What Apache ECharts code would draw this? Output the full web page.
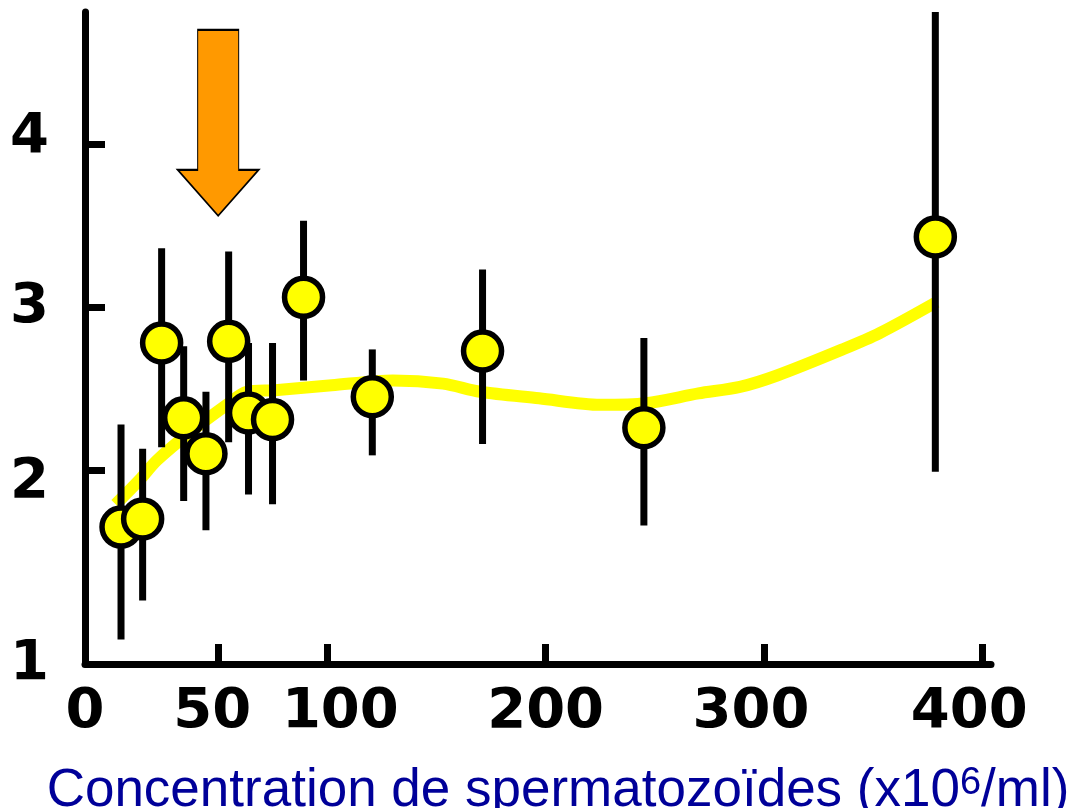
<!DOCTYPE html>
<html>
<head>
<meta charset="utf-8">
<title>Concentration de spermatozoïdes</title>
<script src="https://cdn.jsdelivr.net/npm/echarts@6/dist/echarts.min.js"></script>
<style>
    html, body { margin: 0; padding: 0; background: #fff; }
    #main { width: 1079px; height: 808px; }
</style>
</head>
<body>
<div id="main"></div>
<script>
// points moyens (concentration x10^6/ml) + barres d'erreur
var concentration = [5.5, 15.4, 24.1, 34.2, 44.4, 54.8, 63.9, 74.9, 89.1, 120.6, 171.1, 245.0, 378.5];
var meanValue = [1.65, 1.70, 2.78, 2.32, 2.10, 2.79, 2.35, 2.31, 3.06, 2.45, 2.73, 2.26, 3.43];
var errLow = [0.96, 1.20, 2.14, 1.81, 1.63, 2.17, 1.85, 1.79, 2.55, 2.09, 2.16, 1.66, 1.99];
var errHigh = [2.28, 2.13, 3.36, 2.76, 2.48, 3.34, 2.78, 2.78, 3.53, 2.74, 3.23, 2.81, 4.81];

// courbe de tendance jaune
var trendX = [3, 14, 22, 37, 55, 63, 76, 102, 130, 153, 170, 197, 225, 246, 270, 289, 306, 336, 353, 379];
var trendY = [1.79, 1.94, 2.06, 2.23, 2.41, 2.48, 2.49, 2.52, 2.55, 2.53, 2.48, 2.44, 2.40, 2.41, 2.47, 2.51, 2.58, 2.74, 2.84, 3.03];

// axes
var xMin = -11, xMax = 404;
var yMin = 0.81, yMax = 4.81;
var xTicks = [50, 100, 200, 300, 400];
var yTicks = [2, 3, 4];
var xOriginLabel = '0';
var yOriginLabel = '1';

// fleche orange (pointe vers 50)
var arrowAt = [50, 4.13];

// petits decalages des libelles comme sur l'original
var xLabelStyle = { 50: 'l1', 100: 'r2', 300: 'l2', 400: 'l2' };
var yLabelStyle = { 2: 'dn', 4: 'up' };

var pointData = [];
var errData = [];
var trendData = [];
for (var i = 0; i < concentration.length; i++) {
    pointData.push([concentration[i], meanValue[i]]);
    errData.push([concentration[i], errLow[i], errHigh[i]]);
}
for (var j = 0; j < trendX.length; j++) {
    trendData.push([trendX[j], trendY[j]]);
}

var labelFont = {
    fontFamily: 'DejaVu Sans',
    fontWeight: 'bold',
    fontSize: 56,
    color: '#000'
};
function nudge(pad) {
    return Object.assign({ padding: pad }, labelFont);
}

var option = {
    animation: false,
    backgroundColor: '#fff',
    grid: {
        left: 85,
        right: 88,
        top: 12,
        bottom: 144,
        containLabel: false,
        outerBoundsMode: 'none'
    },
    xAxis: {
        type: 'value',
        min: xMin,
        max: xMax,
        splitLine: { show: false },
        axisLine: { onZero: false, lineStyle: { color: '#000', width: 7 } },
        axisTick: {
            customValues: xTicks,
            inside: true,
            length: 20,
            lineStyle: { color: '#000', width: 7 }
        },
        axisLabel: Object.assign({
            customValues: [xMin].concat(xTicks),
            margin: 20,
            formatter: function(v) {
                if (v === xMin) return xOriginLabel;
                var s = xLabelStyle[v];
                return s ? '{' + s + '|' + v + '}' : String(v);
            },
            rich: {
                l1: nudge([0, 12, 0, 0]),
                l2: nudge([0, 26, 0, 0]),
                r2: nudge([0, 0, 0, 26])
            }
        }, labelFont),
        name: 'Concentration de spermatozoïdes (x10{sup|6}/ml)',
        nameLocation: 'middle',
        nameGap: 101,
        nameTextStyle: {
            fontFamily: 'Liberation Sans',
            fontSize: 53,
            color: '#000099',
            padding: [0, 0, 0, 40],
            rich: {
                sup: {
                    fontFamily: 'Liberation Sans',
                    fontSize: 38,
                    lineHeight: 20,
                    verticalAlign: 'top',
                    color: '#000099'
                }
            }
        }
    },
    yAxis: {
        type: 'value',
        min: yMin,
        max: yMax,
        splitLine: { show: false },
        axisLine: { onZero: false, lineStyle: { color: '#000', width: 7 } },
        axisTick: {
            customValues: yTicks,
            inside: true,
            length: 20,
            lineStyle: { color: '#000', width: 7 }
        },
        axisLabel: Object.assign({
            customValues: [yMin].concat(yTicks),
            margin: 36,
            formatter: function(v) {
                if (v === yMin) return yOriginLabel;
                var s = yLabelStyle[v];
                return s ? '{' + s + '|' + v + '}' : String(v);
            },
            rich: {
                dn: nudge([24, 0, 0, 0]),
                up: nudge([0, 0, 14, 0])
            }
        }, labelFont)
    },
    series: [
        {
            name: 'tendance',
            type: 'line',
            smooth: 0.3,
            showSymbol: false,
            z: 1,
            lineStyle: { color: '#FFFF00', width: 12 },
            data: trendData,
            markPoint: {
                symbol: 'path://M20,0 L61,0 L61,140 L81,140 L40.5,186 L0,140 L20,140 Z',
                symbolSize: [81, 186],
                itemStyle: { color: '#FF9900', borderColor: '#000', borderWidth: 1.5 },
                label: { show: false },
                data: [{ coord: arrowAt }]
            }
        },
        {
            name: 'erreur',
            type: 'custom',
            z: 2,
            clip: false,
            encode: { x: 0, y: [1, 2] },
            renderItem: function(params, api) {
                var lo = api.coord([api.value(0), api.value(1)]);
                var hi = api.coord([api.value(0), api.value(2)]);
                return {
                    type: 'line',
                    shape: { x1: lo[0], y1: lo[1], x2: hi[0], y2: hi[1] },
                    style: { stroke: '#000', lineWidth: 7 }
                };
            },
            data: errData
        },
        {
            name: 'moyenne',
            type: 'scatter',
            z: 3,
            symbolSize: 38,
            itemStyle: { color: '#FFFF00', borderColor: '#000', borderWidth: 5.5, opacity: 1 },
            data: pointData
        }
    ]
};

var myChart = echarts.init(document.getElementById('main'));
myChart.setOption(option);
</script>
</body>
</html>
